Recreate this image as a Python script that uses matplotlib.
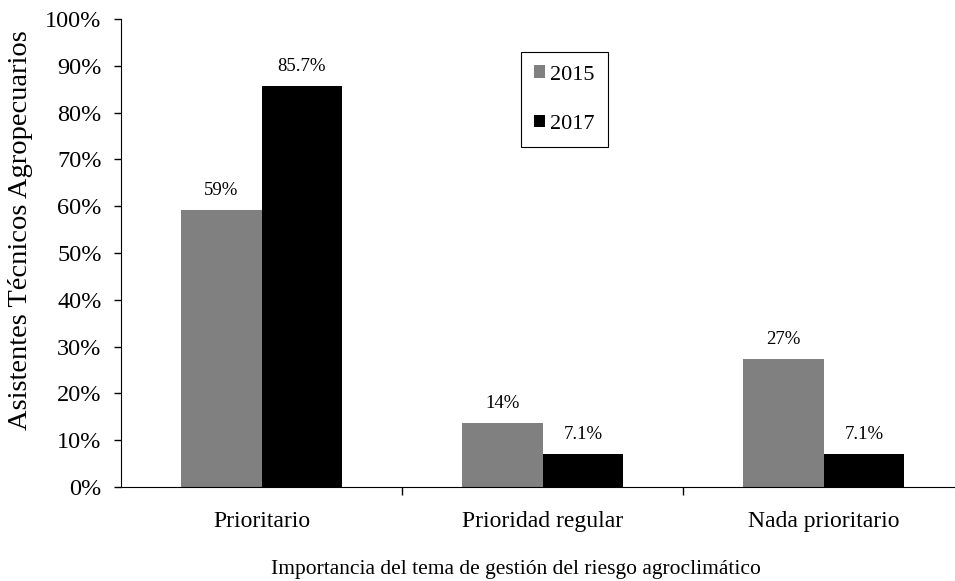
import numpy as np
import matplotlib.pyplot as plt
from matplotlib.ticker import PercentFormatter

plt.rcParams['font.family'] = ['Liberation Serif', 'DejaVu Serif']

categorias = ['Prioritario', 'Prioridad regular', 'Nada prioritario']
valores_2015 = [59.2, 13.7, 27.3]
valores_2017 = [85.7, 7.1, 7.1]
etiquetas_2015 = ['59%', '14%', '27%']
etiquetas_2017 = ['85.7%', '7.1%', '7.1%']


def crear_grafico():
    fig = plt.figure(figsize=(9.55, 5.81), dpi=100)
    ax = fig.add_axes([121 / 955, 94 / 581, 843 / 955, 468 / 581])
    x = np.arange(len(categorias))
    ancho = 0.287
    b1 = ax.bar(x - ancho / 2, valores_2015, ancho, color='#808080', label='2015')
    b2 = ax.bar(x + ancho / 2, valores_2017, ancho, color='#000000', label='2017')
    ax.bar_label(b1, labels=etiquetas_2015, padding=8, fontsize=13.5)
    ax.bar_label(b2, labels=etiquetas_2017, padding=8, fontsize=13.5)

    ax.set_xlim(-0.5, 2.5)
    ax.set_ylim(0, 100)
    ax.set_yticks(np.arange(0, 101, 10))
    ax.yaxis.set_major_formatter(PercentFormatter(decimals=0))
    ax.tick_params(axis='y', labelsize=17.5, direction='out', length=5, width=1, pad=9)
    ax.set_xticks(x)
    ax.set_xticklabels(categorias, fontsize=17)
    ax.tick_params(axis='x', which='major', length=0, pad=17)
    ax.set_xticks([0.5, 1.5], minor=True)
    ax.tick_params(axis='x', which='minor', direction='out', length=6, width=1)

    ax.spines['top'].set_visible(False)
    ax.spines['right'].set_visible(False)

    ax.set_ylabel('Asistentes Técnicos Agropecuarios', fontsize=20.5)
    ax.yaxis.set_label_coords(-88 / 843, (487 - 230) / 468)
    ax.set_xlabel('Importancia del tema de gestión del riesgo agroclimático',
                  fontsize=15.5)
    ax.xaxis.set_label_coords((516 - 121) / 843, -73 / 468)

    leg = ax.legend(loc='upper left', bbox_to_anchor=(400 / 843, (487 - 52) / 468),
                    borderaxespad=0, fontsize=16, fancybox=False, edgecolor='black',
                    handlelength=0.5, handleheight=0.5, handletextpad=0.2,
                    labelspacing=1.35, borderpad=0.6, framealpha=1)
    leg.get_frame().set_linewidth(0.8)

    fig.savefig('out.png', dpi=100)


def main():
    crear_grafico()


if __name__ == '__main__':
    main()
